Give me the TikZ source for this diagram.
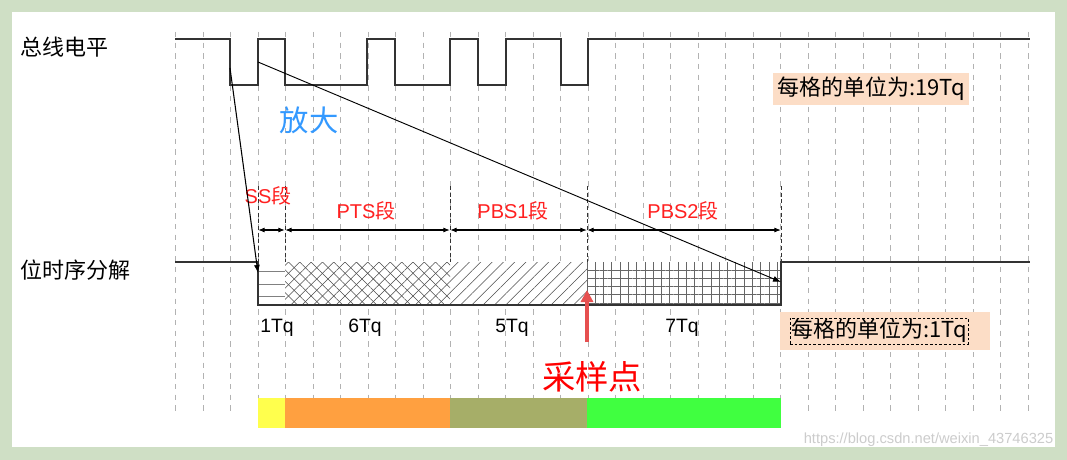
\documentclass[tikz,border=0pt]{standalone}
\usepackage{fontspec}
\setmainfont{Liberation Sans}
\newfontfamily\cjk{Noto Sans CJK SC}
\usetikzlibrary{patterns.meta,arrows.meta}
\definecolor{frame}{HTML}{CFDFC5}
\definecolor{peach}{HTML}{FCDDC6}
\definecolor{segred}{HTML}{FF2020}
\definecolor{blu}{HTML}{3399FF}
\definecolor{olive2}{HTML}{A6AE68}
\definecolor{green2}{HTML}{40FF40}
\definecolor{orange2}{HTML}{FFA040}
\definecolor{yellow2}{HTML}{FFFF4D}
\definecolor{arrred}{HTML}{E65050}
\begin{document}
\begin{tikzpicture}[x=0.75pt,y=-0.75pt,
  wave/.style={line width=1pt,draw=black!80},
  gridl/.style={draw=black!30,line width=0.5pt,dash pattern=on 4pt off 4pt},
  segl/.style={draw=black!80,line width=0.5pt,dash pattern=on 3pt off 2pt},
  dim/.style={{Latex[length=5pt]}-{Latex[length=5pt]},line width=0.8pt},
  seglabel/.style={text=segred,font=\fontsize{15}{17}\selectfont},
  tq/.style={font=\fontsize{14.5}{16}\selectfont},
  side/.style={font=\cjk\fontsize{16.5}{18}\selectfont,anchor=west}]
\useasboundingbox (0,0) rectangle (1067,460);
\fill[frame] (0,0) rectangle (1067,460);
\fill[white] (12,12) rectangle (1055,447);
% grid
\foreach \k in {-3,...,28} \draw[gridl] ({258+27.5*\k},32) -- ({258+27.5*\k},412);
% bar
\fill[yellow2] (258,398) rectangle (285,428);
\fill[orange2] (285,398) rectangle (450,428);
\fill[olive2] (450,398) rectangle (587,428);
\fill[green2] (587,398) rectangle (781,428);
% top waveform
\draw[wave] (175,39) -- (230,39) -- (230,85) -- (258,85) -- (258,39) -- (285,39) -- (285,85)
  -- (367,85) -- (367,39) -- (395,39) -- (395,85) -- (450,85) -- (450,39) -- (478,39) -- (478,85)
  -- (506,85) -- (506,39) -- (561,39) -- (561,85) -- (588,85) -- (588,39) -- (1030,39);
% segment regions
\fill[white] (258,262) rectangle (781,305);
\foreach \yy in {271,284,296} \draw[black!50,line width=0.6pt] (258,\yy) -- (285,\yy);
\fill[pattern={Lines[angle=45,distance=6pt,line width=0.4pt]},pattern color=black!70] (285,262) rectangle (450,305);
\fill[pattern={Lines[angle=-45,distance=6pt,line width=0.4pt]},pattern color=black!70] (285,262) rectangle (450,305);
\fill[pattern={Lines[angle=45,distance=6pt,line width=0.4pt]},pattern color=black!70] (450,262) rectangle (587,305);
\fill[pattern={Lines[angle=0,distance=6.2pt,line width=0.4pt]},pattern color=black!60] (587,262) rectangle (781,305);
\fill[pattern={Lines[angle=90,distance=6.2pt,line width=0.4pt]},pattern color=black!60] (587,262) rectangle (781,305);
\draw[wave] (175,262) -- (258,262) -- (258,305) -- (781,305) -- (781,262) -- (1030,262);
% segment markers
\foreach \xx/\nm in {258/a,285/b,450/c,587/d,781/e} {
  \draw[segl] (\xx,186) -- (\xx,262);
  \coordinate (\nm) at (\xx,230);}
\draw[dim] (a) -- (b);
\draw[dim] (b) -- (c);
\draw[dim] (c) -- (d);
\draw[dim] (d) -- (e);
\node[seglabel] (ss) at (268,196) {SS{\cjk 段}};
\node[seglabel] (pts) at (366,211) {PTS{\cjk 段}};
\node[seglabel] (pbs1) at (513,211) {PBS1{\cjk 段}};
\node[seglabel] (pbs2) at (683,211) {PBS2{\cjk 段}};
% zoom lines
\coordinate (z1) at (230,68);
\coordinate (z1e) at (258,273);
\coordinate (z2) at (258,62);
\coordinate (z2e) at (781,282);
\draw[-{Latex[length=6pt]},line width=0.8pt] (z1) -- (z1e);
\draw[-{Latex[length=6pt]},line width=0.7pt] (z2) -- (z2e);
\node[text=blu,font=\cjk\fontsize{22}{25}\selectfont] (fd) at (309,120) {放大};
% side labels
\node[side] (l1) at (16,47) {总线电平};
\node[side] (l2) at (16,270) {位时序分解};
% unit boxes
\node[fill=peach,inner xsep=3pt,inner ysep=3pt,font=\cjk\fontsize{16.5}{18}\selectfont] (u1) at (871,89) {每格的单位为:19Tq};
\node[fill=peach,minimum width=158pt,minimum height=28pt] (u2) at (885,331) {};
\node[draw,dash pattern=on 2pt off 1.5pt,inner sep=1pt,font=\cjk\fontsize{16.5}{18}\selectfont] (u2t) at (879,331) {每格的单位为:1Tq};
% Tq labels
\node[tq] (t1) at (277,328) {1Tq};
\node[tq] (t6) at (365,328) {6Tq};
\node[tq] (t5) at (512,328) {5Tq};
\node[tq] (t7) at (682,328) {7Tq};
% sample point
\coordinate (sp0) at (587,342);
\coordinate (sp1) at (587,290);
\draw[-{Triangle[length=9pt,width=9pt]},line width=3pt,draw=arrred,color=arrred] (sp0) -- (sp1);
\node[text=red,font=\cjk\fontsize{25}{28}\selectfont] (spl) at (592,377) {采样点};
\node[text=black!20,font=\fontsize{11}{12}\selectfont,anchor=east] (wm) at (1058,440) {https://blog.csdn.net/weixin\_43746325};
\end{tikzpicture}
\end{document}
